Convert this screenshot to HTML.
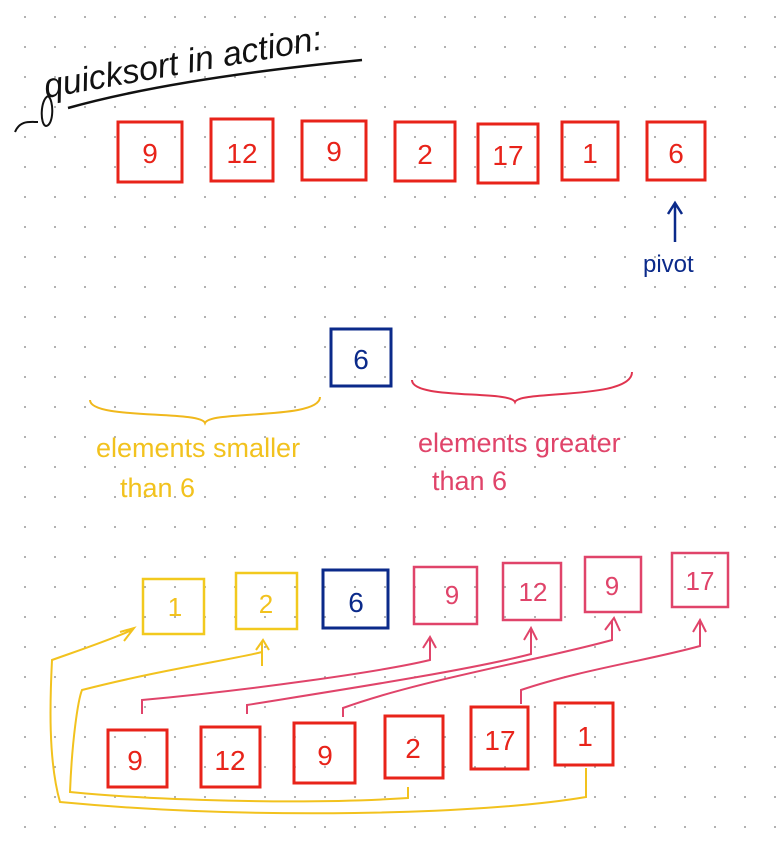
<!DOCTYPE html>
<html><head><meta charset="utf-8"><style>
html,body{margin:0;padding:0;background:#fff;}
svg{display:block}
text{font-family:"Liberation Sans",sans-serif;}
</style></head><body>
<svg width="784" height="844" viewBox="0 0 784 844" xmlns="http://www.w3.org/2000/svg">
<defs>
<pattern id="dots" x="0" y="0" width="30" height="30" patternUnits="userSpaceOnUse">
<circle cx="25" cy="17" r="1" fill="#9a9a9a"/>
</pattern>
</defs>
<rect width="784" height="844" fill="#fff"/>
<rect width="784" height="844" fill="url(#dots)"/>

<!-- title -->
<text x="46" y="98" font-size="34" font-style="italic" fill="#111" transform="rotate(-10 46 98)" font-family="Liberation Serif">quicksort in action:</text>
<path d="M68 108 C150 85 260 70 362 60" stroke="#111" stroke-width="2.5" fill="none"/>
<path d="M15 132 C20 120 30 122 38 122 M48 96 C40 100 40 125 46 126 C54 125 54 100 48 96" stroke="#111" stroke-width="2" fill="none"/>

<g fill="none" stroke="#e8231a" stroke-width="3">
<rect x="118" y="122" width="64" height="60"/>
<rect x="211" y="119" width="62" height="62"/>
<rect x="302" y="121" width="64" height="59"/>
<rect x="395" y="122" width="60" height="59"/>
<rect x="478" y="124" width="60" height="59"/>
<rect x="562" y="122" width="56" height="58"/>
<rect x="647" y="122" width="58" height="58"/>
</g>
<g fill="#e8231a" font-size="28" text-anchor="middle">
<text x="150" y="163">9</text><text x="242" y="163">12</text><text x="334" y="161">9</text>
<text x="425" y="164">2</text><text x="508" y="165">17</text><text x="590" y="163">1</text><text x="676" y="163">6</text>
</g>

<path d="M675 242 V204 M668 214 L675 203 L682 214" stroke="#0b2a8a" stroke-width="2.5" fill="none"/>
<text x="643" y="272" font-size="24" fill="#0b2a8a">pivot</text>

<rect x="331" y="329" width="60" height="57" fill="none" stroke="#0b2a8a" stroke-width="3"/>
<text x="361" y="369" font-size="28" fill="#0b2a8a" text-anchor="middle">6</text>

<path d="M90 400 C90 420 200 410 205 423 C210 410 320 420 320 397" stroke="#f0b81c" stroke-width="2" fill="none"/>
<path d="M412 380 C412 400 510 390 515 402 C520 390 632 400 632 372" stroke="#e0344f" stroke-width="2" fill="none"/>
<text x="96" y="457" font-size="27" fill="#f2c21e">elements smaller</text>
<text x="120" y="497" font-size="27" fill="#f2c21e">than 6</text>
<text x="418" y="452" font-size="27" fill="#e0446a">elements greater</text>
<text x="432" y="490" font-size="27" fill="#e0446a">than 6</text>

<g fill="none" stroke-width="2.5">
<rect x="143" y="579" width="61" height="55" stroke="#f2c91e"/>
<rect x="236" y="573" width="61" height="56" stroke="#f2c91e"/>
<rect x="323" y="570" width="65" height="58" stroke="#0b2a8a" stroke-width="3"/>
<rect x="414" y="567" width="63" height="57" stroke="#e0446a"/>
<rect x="503" y="563" width="58" height="57" stroke="#e0446a"/>
<rect x="585" y="557" width="56" height="55" stroke="#e0446a"/>
<rect x="672" y="553" width="56" height="54" stroke="#e0446a"/>
</g>
<g font-size="26" text-anchor="middle">
<text x="175" y="616" fill="#f2c21e">1</text><text x="266" y="613" fill="#f2c21e">2</text>
<text x="356" y="612" fill="#0b2a8a" font-size="28">6</text><text x="452" y="604" fill="#e0446a">9</text>
<text x="533" y="601" fill="#e0446a">12</text><text x="612" y="595" fill="#e0446a">9</text><text x="700" y="590" fill="#e0446a">17</text>
</g>

<g fill="none" stroke="#e8231a" stroke-width="3">
<rect x="108" y="730" width="59" height="57"/>
<rect x="201" y="727" width="59" height="60"/>
<rect x="294" y="723" width="61" height="60"/>
<rect x="385" y="716" width="58" height="62"/>
<rect x="471" y="707" width="57" height="62"/>
<rect x="555" y="703" width="58" height="62"/>
</g>
<g fill="#e8231a" font-size="28" text-anchor="middle">
<text x="135" y="770">9</text><text x="230" y="770">12</text><text x="325" y="765">9</text>
<text x="413" y="758">2</text><text x="500" y="750">17</text><text x="585" y="746">1</text>
</g>

<g fill="none" stroke="#e0446a" stroke-width="2">
<path d="M142 714 V700 C250 690 380 672 430 660 V637 M423 648 L430 637 L436 648"/>
<path d="M247 714 V705 C340 690 470 670 531 654 V628 M524 640 L531 628 L537 640"/>
<path d="M343 717 V708 C420 680 540 660 612 640 V620 M605 630 L614 618 L620 631"/>
<path d="M521 704 V690 C580 670 650 660 700 646 V620 M693 632 L700 620 L706 632"/>
</g>
<g fill="none" stroke="#f2c21e" stroke-width="2">
<path d="M408 787 V798 C300 805 150 800 70 792 C72 740 78 700 82 690 C160 670 230 660 262 652 M262 666 V642 M256 650 L263 640 L269 650"/>
<path d="M586 768 V797 C480 815 250 820 60 802 C48 760 50 700 52 660 C80 650 110 640 132 630 M120 632 L134 628 L124 641"/>
</g>
</svg>
</body></html>
